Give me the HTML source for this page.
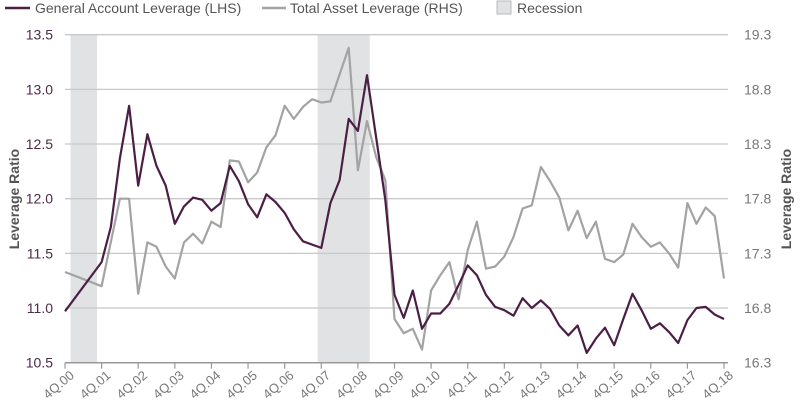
<!DOCTYPE html>
<html><head><meta charset="utf-8"><style>
body{margin:0;background:#fff;font-family:"Liberation Sans",sans-serif;}
svg{display:block}
</style></head><body>
<svg id="chart" width="800" height="415"></svg>
<script>
const years=["4Q.00","4Q.01","4Q.02","4Q.03","4Q.04","4Q.05","4Q.06","4Q.07","4Q.08","4Q.09","4Q.10","4Q.11","4Q.12","4Q.13","4Q.14","4Q.15","4Q.16","4Q.17","4Q.18"];
const leftTicks=[10.5,11.0,11.5,12.0,12.5,13.0,13.5];
const rightTicks=[16.3,16.8,17.3,17.8,18.3,18.8,19.3];
const gaQ=[0,4,5,6,7,8,9,10,11,12,13,14,15,16,17,18,19,20,21,22,23,24,25,26,28,29,30,31,32,33,35,36,37,38,39,40,41,42,43,44,45,46,47,48,49,50,51,52,53,54,55,56,57,58,59,60,61,62,63,64,65,66,67,68,69,70,71,72];
const gaVal=[10.97,11.42,11.74,12.37,12.85,12.12,12.59,12.30,12.12,11.77,11.93,12.01,11.99,11.89,11.96,12.30,12.16,11.95,11.83,12.04,11.97,11.87,11.72,11.61,11.55,11.96,12.17,12.73,12.62,13.13,11.99,11.12,10.91,11.16,10.81,10.95,10.95,11.04,11.21,11.39,11.30,11.12,11.01,10.98,10.93,11.09,11.00,11.07,10.99,10.84,10.75,10.84,10.59,10.72,10.82,10.66,10.90,11.13,10.98,10.81,10.86,10.78,10.68,10.89,11.00,11.01,10.94,10.90];
const taQ=[0,4,6,7,8,9,10,11,12,13,14,15,16,17,18,19,20,21,22,23,24,25,26,27,28,29,31,32,33,34,35,36,37,38,39,40,41,42,43,44,45,46,47,48,49,50,51,52,53,54,55,56,57,58,59,60,61,62,63,64,65,66,67,68,69,70,71,72];
const taVal=[17.13,17.00,17.80,17.80,16.93,17.40,17.36,17.18,17.07,17.40,17.48,17.39,17.59,17.54,18.15,18.14,17.95,18.04,18.27,18.38,18.65,18.53,18.64,18.71,18.68,18.69,19.18,18.06,18.51,18.18,17.97,16.70,16.57,16.61,16.42,16.96,17.10,17.22,16.88,17.33,17.59,17.16,17.18,17.27,17.45,17.71,17.74,18.09,17.96,17.81,17.51,17.69,17.44,17.59,17.25,17.22,17.29,17.57,17.45,17.36,17.40,17.30,17.17,17.76,17.57,17.72,17.64,17.07];
const recessions=[[0.6,3.5],[27.6,33.3]];

const NS="http://www.w3.org/2000/svg";
const svg=document.getElementById('chart');
const X0=65,X1=724,Y0=362.7,Y1=34.7;
const xq=q=>X0+(X1-X0)*q/72;
const yl=v=>Y0-(v-10.5)/3*(Y0-Y1);
const yr=v=>Y0-(v-16.3)/3*(Y0-Y1);
function mk(t,a,txt){const e=document.createElementNS(NS,t);for(const k in a)e.setAttribute(k,a[k]);if(txt!==undefined)e.textContent=txt;svg.appendChild(e);return e;}

recessions.forEach(r=>{
 const e=mk('rect',{x:xq(r[0]),y:Y1,width:xq(r[1])-xq(r[0]),height:Y0-Y1,fill:'#e1e2e4'});
 
 
});
leftTicks.forEach((v,i)=>{
 if(i>0){const g=mk('line',{x1:X0,x2:X1+4,y1:yl(v),y2:yl(v),stroke:'#c8c8c8','stroke-width':1.3});
 
 }
 const t=mk('text',{x:53,y:yl(v)+5,'text-anchor':'end','font-size':14,fill:'#4d2a47'},v.toFixed(1));
 
 
});
rightTicks.forEach(v=>{
 const t=mk('text',{x:744,y:yr(v)+5,'font-size':14,fill:'#777'},v.toFixed(1));
 
 
});
const ax=mk('line',{x1:X0,x2:X1+4,y1:Y0,y2:Y0,stroke:'#999','stroke-width':1.5});


years.forEach((lab,i)=>{
 const x=xq(i*4);
 const tk=mk('line',{x1:x,x2:x,y1:Y0,y2:Y0+6,stroke:'#999','stroke-width':1.2});
 
 
 const t=mk('text',{x:x+10,y:Y0+14,'text-anchor':'end','font-size':13,fill:'#777',transform:`rotate(-40 ${x+10} ${Y0+14})`},lab);
 
 
});
function path(qs,vs,yf){return qs.map((q,i)=>(i?'L':'M')+xq(q).toFixed(1)+','+yf(vs[i]).toFixed(1)).join(' ');}
const tl=mk('path',{d:path(taQ,taVal,yr),fill:'none',stroke:'#a3a3a3','stroke-width':2.2,'stroke-linejoin':'round'});


const gl=mk('path',{d:path(gaQ,gaVal,yl),fill:'none',stroke:'#4b1f45','stroke-width':2.2,'stroke-linejoin':'round'});



const t1=mk('text',{x:0,y:0,'font-size':14,'font-weight':'bold',fill:'#555','text-anchor':'middle',transform:'translate(19,199) rotate(-90)'},'Leverage Ratio');


const t2=mk('text',{x:0,y:0,'font-size':14,'font-weight':'bold',fill:'#555','text-anchor':'middle',transform:'translate(791,199) rotate(-90)'},'Leverage Ratio');



// legend
const l1=mk('line',{x1:5,x2:30,y1:8,y2:8,stroke:'#4b1f45','stroke-width':2.5});


const lt1=mk('text',{x:35,y:13,'font-size':14,fill:'#555'},'General Account Leverage (LHS)');


const l2=mk('line',{x1:262,x2:286,y1:8,y2:8,stroke:'#a3a3a3','stroke-width':2.5});


const lt2=mk('text',{x:290,y:13,'font-size':14,fill:'#555'},'Total Asset Leverage (RHS)');


const l3=mk('rect',{x:497,y:1,width:14,height:13,fill:'#e1e2e4',stroke:'#bbb','stroke-width':1});


const lt3=mk('text',{x:517,y:13,'font-size':14,fill:'#555'},'Recession');


</script>
</body></html>
